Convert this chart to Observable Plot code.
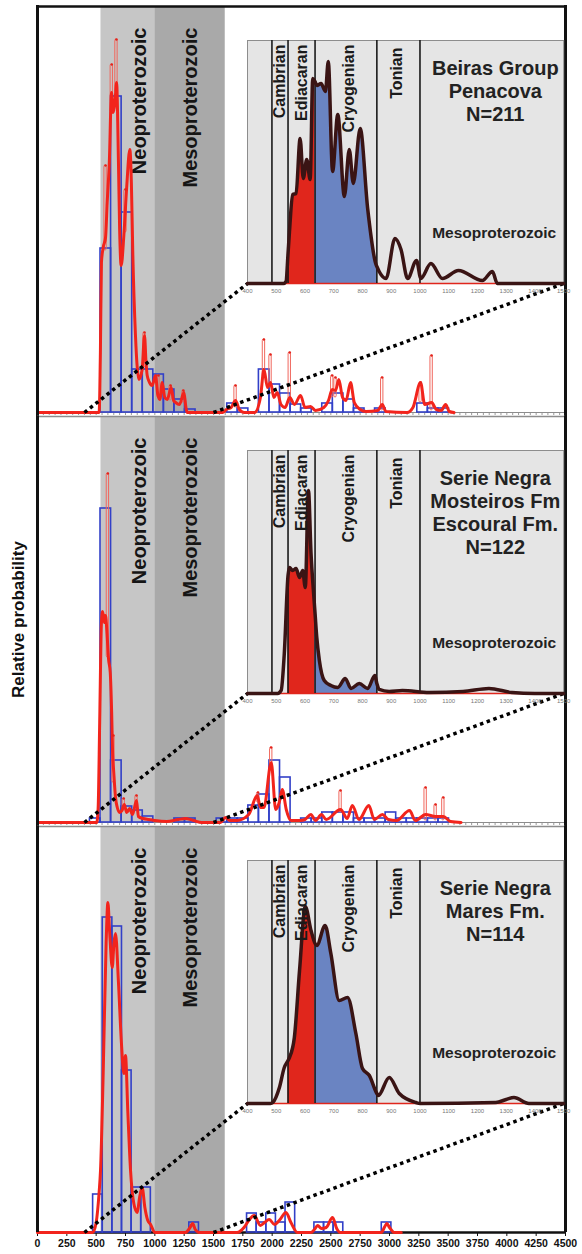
<!DOCTYPE html>
<html><head><meta charset="utf-8">
<script src="https://cdn.jsdelivr.net/npm/d3@7"></script>
<script src="https://cdn.jsdelivr.net/npm/@observablehq/plot@0.6"></script>
<style>
body{margin:0;background:#fff;}
#fig{position:relative;width:582px;height:1254px;overflow:hidden;background:#fff;}
#fig svg{position:absolute;left:0;overflow:visible;}
</style></head><body><div id="fig"></div>
<script>
// ---------- shared categories / ticks ----------
const X_MAX = 4500;
const PANEL_H = 406;   // relative-probability units of each main panel
const INSET_H = 243;   // relative units of each inset
const mainTicks = d3.range(0, 4501, 250);
const minorTicks = d3.range(0, 4501, 50);
const insetTicks = d3.range(400, 1501, 100);
const insetAges = [400, 1500];

const eraNames = ["Neoproterozoic", "Mesoproterozoic"];
const eraStart = [541, 1000];
const eraEnd = [1000, 1600];
const eraLabelAge = [868, 1304];

const periodBounds = [485, 541, 635, 850, 1000];
const periodNames = ["Cambrian", "Ediacaran", "Cryogenian", "Tonian"];
const periodLabelAge = [513, 588, 752, 918];
const periodLabelTop = [4, 4, 4, 7];
const ediacaranRange = [541, 635];
const cryogenianRange = [635, 850];

// ---------- panel 1 : Beiras Group ----------
const p1Title = ["Beiras Group", "Penacova", "N=211"];
const p1BinStart = 537, p1BinWidth = 90;
const p1Counts = [164,316,200,43,43,38,23,13,3,0,0,0,9,4,0,43,28,19,8,4,0,9,19,13,4,0,4,0,0,0,9,4,4];
const p1Curve = [[0,0],[525,0],[536,60],[545,150],[560,165],[580,175],[594,210],[612,250],[631,320],[645,300],[660,310],[674,330],[690,250],[700,183],[713,147],[736,177],[759,223],[787,263],[800,230],[812,160],[835,77],[850,45],[864,33],[892,43],[912,77],[925,50],[935,37],[955,30],[978,27],[1006,37],[1025,18],[1043,13],[1063,30],[1085,15],[1106,13],[1139,25],[1160,12],[1177,10],[1210,8],[1248,20],[1265,5],[1276,0],[1580,0],[1610,3],[1650,5],[1688,12],[1720,3],[1760,0],[1850,0],[1900,15],[1930,43],[1960,25],[1986,30],[2015,15],[2043,20],[2075,8],[2110,5],[2150,15],[2190,8],[2242,17],[2280,5],[2327,6],[2370,2],[2440,5],[2480,12],[2512,23],[2540,22],[2568,33],[2600,15],[2630,12],[2668,30],[2700,10],[2750,3],[2800,1],[2900,2],[2938,8],[2970,1],[3150,0],[3200,5],[3265,30],[3300,8],[3359,10],[3400,3],[3440,2],[3478,8],[3510,1],[3550,0]];
const p1Spikes = [[580,162,247],[633,300,348],[673,320,373],[750,180,223],[912,45,80],[1031,15,37],[1134,12,27],[1243,10,22],[1688,5,27],[1930,35,73],[1986,25,58],[2150,10,60],[2512,15,37],[2540,15,35],[2938,2,35],[3265,10,30],[3359,2,57]];
const p1Inset = [[400,0],[525,0],[534,2],[541,30],[546,52],[557,89],[569,90],[583,145],[594,105],[606,124],[618,104],[627,205],[635,202],[641,198],[656,200],[671,192],[681,222],[696,112],[714,169],[737,87],[754,134],[768,100],[792,155],[818,75],[847,19],[850,17],[858,12],[882,5],[913,45],[934,34],[957,5],[988,23],[1003,5],[1038,20],[1078,5],[1134,13],[1217,3],[1252,12],[1269,0],[1500,0]];

// ---------- panel 2 : Serie Negra, Mosteiros / Escoural ----------
const p2Title = ["Serie Negra", "Mosteiros Fm", "Escoural Fm.", "N=122"];
const p2BinStart = 447, p2BinWidth = 90;
const p2Counts = [4,314,62,16,12,6,0,0,4,4,0,0,4,4,4,17,28,62,45,0,4,4,10,10,10,4,4,4,10,4,4,4,4,4];
const p2Curve = [[0,0],[505,0],[517,15],[530,100],[545,200],[555,211],[570,200],[580,207],[592,190],[605,164],[620,150],[632,110],[640,70],[650,50],[665,25],[680,15],[700,10],[720,12],[740,18],[760,10],[785,14],[810,8],[844,22],[860,6],[900,4],[950,3],[1000,2],[1100,1],[1200,3],[1260,4],[1330,2],[1400,0],[1560,0],[1603,5],[1640,2],[1700,2],[1800,8],[1873,27],[1900,15],[1930,15],[1992,60],[2030,13],[2060,20],[2086,33],[2120,13],[2160,2],[2240,2],[2280,3],[2330,8],[2370,2],[2420,8],[2460,3],[2583,13],[2640,4],[2683,17],[2740,3],[2824,17],[2870,3],[2940,8],[2990,3],[3060,2],[3171,12],[3220,2],[3308,8],[3393,6],[3459,6],[3520,1],[3610,0]];
const p2Spikes = [[600,165,349],[647,40,87],[735,12,24],[844,15,27],[1880,20,30],[1992,55,75],[2583,10,32],[3308,2,35],[3393,2,18],[3459,2,25]];
const p2Inset = [[400,0],[505,0],[517,3],[528,40],[541,118],[546,126],[557,123],[569,125],[581,116],[592,123],[601,106],[612,203],[621,140],[630,100],[635,80],[641,56],[650,33],[667,13],[690,8],[714,6],[740,15],[760,5],[789,10],[818,5],[843,18],[850,10],[858,4],[893,2],[939,3],[1032,1],[1150,2],[1240,5],[1320,1],[1400,0],[1500,0]];

// ---------- panel 3 : Serie Negra, Mares ----------
const p3Title = ["Serie Negra", "Mares Fm.", "N=114"];
const p3BinStart = 474, p3BinWidth = 82;
const p3Counts = [38,315,306,162,45,45,0,0,0,0,10,0,0,0,0,0,19,10,19,10,30,0,0,10,10,10,0,0,0,0,10];
const p3Curve = [[0,0],[470,0],[500,10],[525,40],[537,62],[560,160],[585,290],[600,330],[615,300],[637,265],[652,290],[665,299],[690,250],[715,190],[736,159],[750,177],[770,120],[793,62],[821,29],[850,20],[870,35],[892,45],[915,25],[940,12],[964,8],[1000,0],[1260,0],[1300,5],[1322,9],[1345,3],[1380,0],[1700,0],[1760,5],[1800,12],[1847,17],[1900,7],[1935,10],[1975,13],[2020,8],[2060,12],[2118,20],[2160,10],[2215,0],[2330,0],[2360,3],[2388,7],[2420,4],[2460,5],[2515,15],[2550,4],[2580,0],[2930,0],[2960,6],[2977,9],[3000,5],[3040,0],[3100,0]];
const p3Spikes = [];
const p3Inset = [[400,0],[480,0],[488,1],[511,16],[528,36],[541,43],[546,46],[563,66],[581,133],[601,197],[621,173],[635,160],[641,158],[670,178],[690,150],[719,103],[748,106],[777,70],[800,35],[824,28],[850,10],[855,8],[893,26],[928,10],[986,1],[1000,0],[1264,1],[1300,4],[1327,6],[1379,0],[1500,0]];

// ---------- layout options ----------
const panelTops = [6, 416, 826];
const insetBox = {x0: 1790, x1: 4485, y0: 129, y1: 372}; // inset frame in main-panel units
const titleAge = 1262, titleTop = 18, mesoLabelAge = 1258, mesoLabelY = 50;
const FONT = "'Liberation Sans', Arial, Helvetica, sans-serif";

const panels = [
  {title: p1Title, binStart: p1BinStart, binWidth: p1BinWidth, counts: p1Counts, curve: p1Curve, spikes: p1Spikes, inset: p1Inset},
  {title: p2Title, binStart: p2BinStart, binWidth: p2BinWidth, counts: p2Counts, curve: p2Curve, spikes: p2Spikes, inset: p2Inset},
  {title: p3Title, binStart: p3BinStart, binWidth: p3BinWidth, counts: p3Counts, curve: p3Curve, spikes: p3Spikes, inset: p3Inset}
];

const fig = document.getElementById("fig");
const MT = 4;

panels.forEach((p, i) => {
  const last = i === panels.length - 1;
  const MB = last ? 24 : 6;
  const bars = p.counts.map((c, k) => ({x1: p.binStart + k * p.binWidth, x2: p.binStart + (k + 1) * p.binWidth, y: c})).filter(d => d.y > 0);
  const curve = p.curve.map(([x, y]) => ({x, y}));
  const spikes = p.spikes.map(([x, b, t]) => ({x, b, t}));
  const eras = eraNames.map((n, k) => ({n, x1: eraStart[k], x2: eraEnd[k], lx: eraLabelAge[k]}));
  const links = [{x1: insetAges[0], x2: insetBox.x0}, {x1: insetAges[1], x2: insetBox.x1}];

  const marks = [
    Plot.rect([eras[0]], {x1: "x1", x2: "x2", y1: 0, y2: PANEL_H, fill: "#c6c6c6"}),
    Plot.rect([eras[1]], {x1: "x1", x2: "x2", y1: 0, y2: PANEL_H, fill: "#a9a9a9"}),
    Plot.text(eras, {x: "lx", y: PANEL_H - 21, text: "n", rotate: -90, textAnchor: "end", fontSize: 20, fontWeight: "bold", fill: "#151515"}),
    last
      ? Plot.axisX({ticks: mainTicks, tickSize: 4, tickPadding: 3, fontSize: 10.5, fontWeight: "bold", color: "#111", tickFormat: d => String(d), label: null})
      : Plot.axisX({ticks: minorTicks, tickSize: 3, tickPadding: 0, color: "#9a9a9a", tickFormat: () => "", label: null}),
    Plot.ruleY([0], {stroke: last ? "#111" : "#8c8c8c", strokeWidth: last ? 2.5 : 1.2}),
    Plot.rectY(bars, {x1: "x1", x2: "x2", y: "y", fill: "none", stroke: "#3240c8", strokeWidth: 1.6}),
    Plot.rect(spikes, {x1: d => d.x - 10, x2: d => d.x + 10, y1: "b", y2: "t", fill: "none", stroke: "#f0675d", strokeWidth: 1, rx: 1.5}),
    Plot.line(curve, {x: "x", y: "y", curve: "monotone-x", stroke: "#f2241c", strokeWidth: 3}),
    Plot.dot(spikes, {x: "x", y: "t", r: 1.3, fill: "#e4231b"}),
    Plot.link(links, {x1: "x1", y1: 0, x2: "x2", y2: insetBox.y0, stroke: "#000", strokeWidth: 3.5, strokeDasharray: "3.5,3.6"}),
    Plot.ruleY([PANEL_H], {stroke: i === 0 ? "#111" : "#8c8c8c", strokeWidth: i === 0 ? 2.5 : 1.5}),
    Plot.ruleX([0], {y1: last ? 0 : -4, y2: PANEL_H + (i === 0 ? 1 : 0), stroke: "#111", strokeWidth: 3}),
    Plot.ruleX([X_MAX], {y1: last ? 0 : -4, y2: PANEL_H + (i === 0 ? 1 : 0), stroke: "#111", strokeWidth: 3})
  ];
  if (i === 1) {
    marks.push(Plot.text(["Relative probability"], {text: d => d, frameAnchor: "left", textAnchor: "middle", rotate: -90, dx: -19, fontSize: 17, fontWeight: "bold", fill: "#111"}));
  }

  const chart = Plot.plot({
    width: 582, height: PANEL_H + MT + MB,
    marginLeft: 37, marginRight: 17, marginTop: MT, marginBottom: MB,
    x: {domain: [0, X_MAX], axis: null, label: null},
    y: {domain: [0, PANEL_H], axis: null, label: null},
    style: {fontFamily: FONT, background: "transparent", overflow: "visible"},
    marks
  });
  const svgTop = panelTops[i] - MT;
  chart.style.top = svgTop + "px";
  fig.appendChild(chart);

  // ----- inset -----
  const sx = chart.scale("x"), sy = chart.scale("y");
  const left = sx.apply(insetBox.x0), right = sx.apply(insetBox.x1);
  const top = sy.apply(insetBox.y1), bottom = sy.apply(insetBox.y0);
  const inset = p.inset.map(([x, y]) => ({x, y}));
  const periods = periodNames.map((n, k) => ({n, x: periodLabelAge[k], y: INSET_H - periodLabelTop[k]}));
  const IMB = 16;
  const insetChart = Plot.plot({
    width: right - left, height: (bottom - top) + IMB,
    marginLeft: 0, marginRight: 0, marginTop: 0, marginBottom: IMB,
    x: {domain: insetAges, axis: null, label: null},
    y: {domain: [0, INSET_H], axis: null, label: null},
    style: {fontFamily: FONT, background: "transparent", overflow: "visible"},
    marks: [
      Plot.frame({fill: "#e5e5e5", stroke: "#8d8d8d", strokeWidth: 1}),
      Plot.areaY(inset.filter(d => d.x >= ediacaranRange[0] && d.x <= ediacaranRange[1]), {x: "x", y: "y", curve: "monotone-x", fill: "#e0261c"}),
      Plot.areaY(inset.filter(d => d.x >= cryogenianRange[0] && d.x <= cryogenianRange[1]), {x: "x", y: "y", curve: "monotone-x", fill: "#6a84c2"}),
      Plot.ruleY([0], {stroke: "#e0261c", strokeWidth: 1.5}),
      Plot.ruleX(periodBounds, {y1: 0, y2: INSET_H, stroke: "#1a1a1a", strokeWidth: 1.6}),
      Plot.line(inset, {x: "x", y: "y", curve: "monotone-x", stroke: "#3a1414", strokeWidth: 3.5}),
      Plot.text(periods, {x: "x", y: "y", text: "n", rotate: -90, textAnchor: "end", fontSize: 16, fontWeight: "bold", fill: "#1a1a1a"}),
      Plot.text([p.title.join("\n")], {x: titleAge, y: INSET_H - titleTop, text: d => d, lineAnchor: "top", lineHeight: 1.15, fontSize: 20, fontWeight: "bold", fill: "#222"}),
      Plot.text(["Mesoproterozoic"], {x: mesoLabelAge, y: mesoLabelY, text: d => d, fontSize: 15.5, fontWeight: "bold", fill: "#222"}),
      Plot.axisX({ticks: insetTicks, tickSize: 0, tickPadding: 5, fontSize: 6, color: "#777", tickFormat: d => String(d), label: null})
    ]
  });
  insetChart.style.top = (svgTop + top) + "px";
  insetChart.style.left = left + "px";
  fig.appendChild(insetChart);
});
</script>
</body></html>
